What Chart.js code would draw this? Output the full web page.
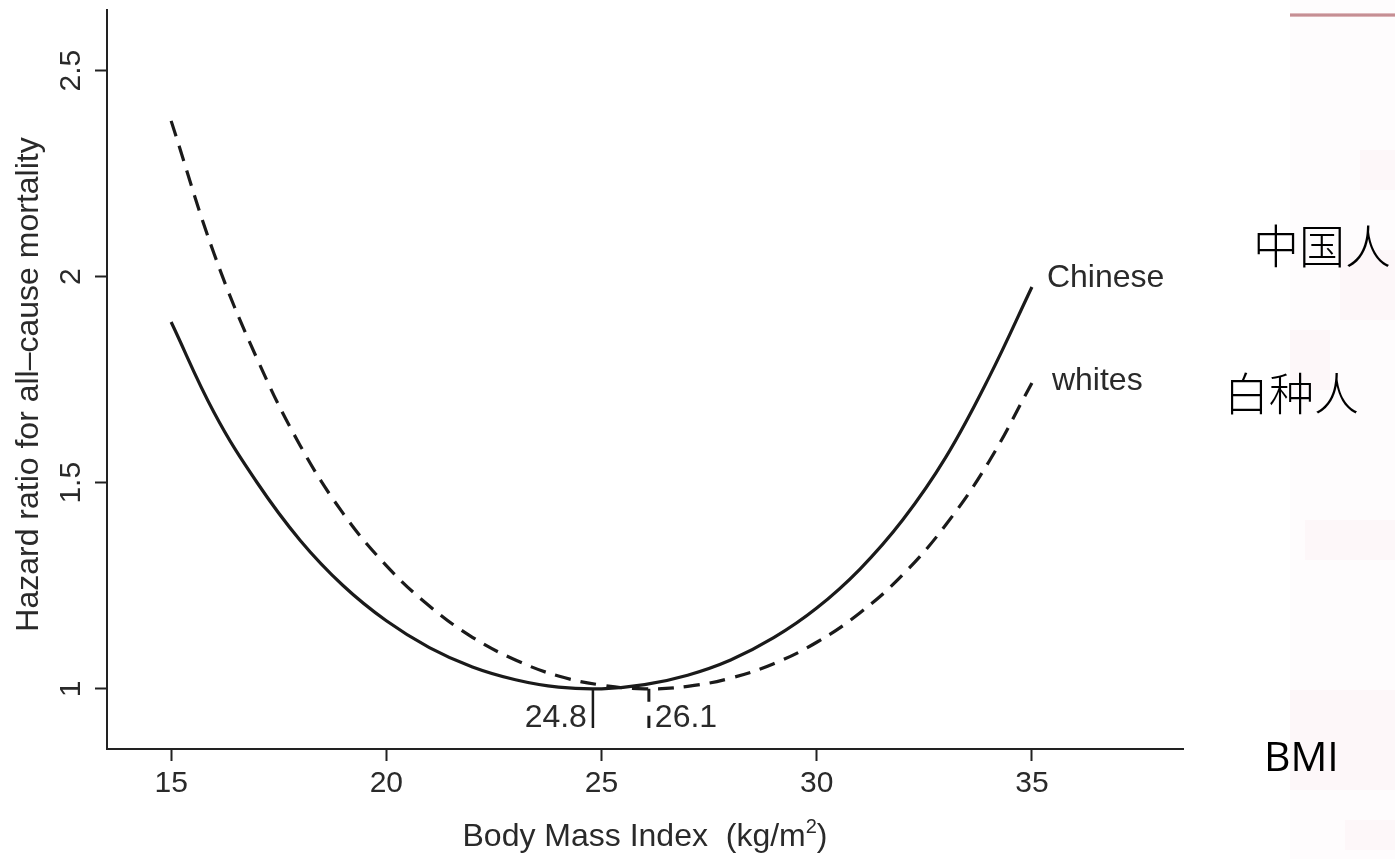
<!DOCTYPE html>
<html>
<head>
    <meta charset="utf-8">
    <title>BMI hazard ratio</title>
    <script src="https://cdn.jsdelivr.net/npm/chart.js@4.4.1/dist/chart.umd.min.js"></script>
    <style>
        body { margin: 0; background: #fff; }
        #wrap { position: relative; width: 1395px; height: 859px; overflow: hidden; }
        #side { position: absolute; left: 1290px; top: 0; width: 105px; height: 859px; background: #fefcfd; }
        #side .bar { position: absolute; left: 0; top: 13px; width: 105px; height: 4px;
            background: linear-gradient(#ecd0d3, #b97a80 50%, #e8c9cc); }
        #side .blk { position: absolute; background: rgba(240, 200, 215, 0.09); }
        .cn { position: absolute; font-family: "Noto Sans CJK SC", sans-serif; font-weight: 300; color: #000; line-height: 1; white-space: nowrap; }
        .bmi { position: absolute; font-family: "Open Sans", sans-serif; color: #000; font-size: 41px; line-height: 1; }
    </style>
</head>
<body>
<div id="wrap">
    <div id="side">
        <div class="bar"></div>
        <div class="blk" style="left:70px;top:150px;width:35px;height:40px"></div>
        <div class="blk" style="left:50px;top:250px;width:55px;height:70px"></div>
        <div class="blk" style="left:0;top:330px;width:40px;height:60px"></div>
        <div class="blk" style="left:15px;top:520px;width:90px;height:40px"></div>
        <div class="blk" style="left:0;top:690px;width:105px;height:100px"></div>
        <div class="blk" style="left:55px;top:820px;width:50px;height:30px"></div>
    </div>
    <canvas id="chart" width="1395" height="859"></canvas>
    <div class="cn" style="left:1253px;top:220px;font-size:46px">中国人</div>
    <div class="cn" style="left:1224px;top:369px;font-size:45px">白种人</div>
    <div class="bmi" style="left:1264px;top:735px">BMI</div>
</div>

<script>
// data
var bmi = [15, 16, 17, 18, 19, 20, 21, 22, 23, 24, 25, 26, 27, 28, 29, 30, 31, 32, 33, 34, 35];
var chineseHR = [1.89, 1.67, 1.50, 1.36, 1.25, 1.165, 1.10, 1.053, 1.022, 1.004, 1.000, 1.010, 1.033, 1.07, 1.124, 1.196, 1.29, 1.41, 1.562, 1.755, 1.975];
var whitesHR = [2.378, 2.055, 1.80, 1.59, 1.425, 1.299, 1.201, 1.125, 1.07, 1.031, 1.009, 1.000, 1.006, 1.026, 1.061, 1.113, 1.184, 1.277, 1.398, 1.551, 1.742];
var seriesNames = ['Chinese', 'whites'];
var minBMI = [24.8, 26.1];
var minLabels = ['24.8', '26.1'];
var markTop = 1.0, markBottom = 0.905;
var xTicks = [15, 20, 25, 30, 35];
var yTicks = [1, 1.5, 2, 2.5];
var xTitle = 'Body Mass Index  (kg/m';
var yTitle = 'Hazard ratio for all\u2013cause mortality';

var FONT = '"Liberation Sans", Arial, Helvetica, sans-serif';
var INK = '#2a2a2a';

function pts(xs, ys) {
    return xs.map(function (x, i) { return {x: x, y: ys[i]}; });
}

var labelsPlugin = {
    id: 'labels',
    afterDraw: function (chart) {
        var ctx = chart.ctx;
        var xs = chart.scales.x, ys = chart.scales.y;
        ctx.save();
        ctx.fillStyle = INK;

        // y tick labels, turned like R does
        ctx.font = '30px ' + FONT;
        ctx.textAlign = 'center';
        ctx.textBaseline = 'alphabetic';
        yTicks.forEach(function (v) {
            ctx.save();
            ctx.translate(80, ys.getPixelForValue(v));
            ctx.rotate(-Math.PI / 2);
            ctx.fillText(String(v), 0, 0);
            ctx.restore();
        });

        // axis titles
        ctx.font = '32px ' + FONT;
        ctx.save();
        ctx.translate(38, (chart.chartArea.top + chart.chartArea.bottom) / 2 + 5);
        ctx.rotate(-Math.PI / 2);
        ctx.fillText(yTitle, 0, 0);
        ctx.restore();

        var w1 = ctx.measureText(xTitle).width;
        ctx.font = '20px ' + FONT;
        var w2 = ctx.measureText('2').width;
        ctx.font = '32px ' + FONT;
        var w3 = ctx.measureText(')').width;
        var x0 = (chart.chartArea.left + chart.chartArea.right) / 2 - (w1 + w2 + w3) / 2;
        var by = 846;
        ctx.textAlign = 'left';
        ctx.fillText(xTitle, x0, by);
        ctx.font = '20px ' + FONT;
        ctx.fillText('2', x0 + w1, by - 13);
        ctx.font = '32px ' + FONT;
        ctx.fillText(')', x0 + w1 + w2, by);

        // curve names at the right end
        ctx.textBaseline = 'middle';
        ctx.fillText(seriesNames[0], xs.getPixelForValue(bmi[bmi.length - 1]) + 15, ys.getPixelForValue(chineseHR[chineseHR.length - 1]) - 9);
        ctx.fillText(seriesNames[1], xs.getPixelForValue(bmi[bmi.length - 1]) + 20, ys.getPixelForValue(whitesHR[whitesHR.length - 1]) - 2);

        // minimum labels
        var ly = ys.getPixelForValue((markTop + markBottom) / 2) + 10;
        ctx.textAlign = 'right';
        ctx.fillText(minLabels[0], xs.getPixelForValue(minBMI[0]) - 6, ly);
        ctx.textAlign = 'left';
        ctx.fillText(minLabels[1], xs.getPixelForValue(minBMI[1]) + 6, ly);
        ctx.restore();
    }
};

window.onload = function () {
    var ctx = document.getElementById('chart').getContext('2d');
    window.myChart = new Chart(ctx, {
        type: 'line',
        data: {
            datasets: [{
                label: seriesNames[0],
                data: pts(bmi, chineseHR),
                borderColor: '#1a1a1a',
                borderWidth: 3.2,
                pointRadius: 0,
                tension: 0.4
            }, {
                label: seriesNames[1],
                data: pts(bmi, whitesHR),
                borderColor: '#1a1a1a',
                borderWidth: 3.2,
                borderDash: [16, 10],
                pointRadius: 0,
                tension: 0.4
            }, {
                label: 'min ' + seriesNames[0],
                data: [{x: minBMI[0], y: markTop}, {x: minBMI[0], y: markBottom}],
                borderColor: '#1a1a1a',
                borderWidth: 2.5,
                pointRadius: 0
            }, {
                label: 'min ' + seriesNames[1],
                data: [{x: minBMI[1], y: markTop}, {x: minBMI[1], y: markBottom}],
                borderColor: '#1a1a1a',
                borderWidth: 3,
                borderDash: [13, 14],
                pointRadius: 0
            }]
        },
        options: {
            responsive: false,
            animation: false,
            layout: {padding: {left: 0, top: 10, right: 212, bottom: 0}},
            plugins: {legend: {display: false}, tooltip: {enabled: false}},
            scales: {
                x: {
                    type: 'linear',
                    min: 13.51,
                    max: 38.51,
                    afterBuildTicks: function (s) { s.ticks = xTicks.map(function (v) { return {value: v}; }); },
                    afterFit: function (s) { s.height = 110; },
                    grid: {drawOnChartArea: false, drawTicks: true, tickLength: 12, tickWidth: 2, tickColor: '#222'},
                    border: {display: true, color: '#222', width: 2},
                    ticks: {font: {size: 30, family: FONT}, color: INK, padding: 5, maxRotation: 0, autoSkip: false}
                },
                y: {
                    type: 'linear',
                    min: 0.854,
                    max: 2.647,
                    afterBuildTicks: function (s) { s.ticks = yTicks.map(function (v) { return {value: v}; }); },
                    afterFit: function (s) { s.width = 107; },
                    grid: {drawOnChartArea: false, drawTicks: true, tickLength: 12, tickWidth: 2, tickColor: '#222'},
                    border: {display: true, color: '#222', width: 2},
                    ticks: {display: false}
                }
            }
        },
        plugins: [labelsPlugin]
    });
};
</script>
</body>
</html>
